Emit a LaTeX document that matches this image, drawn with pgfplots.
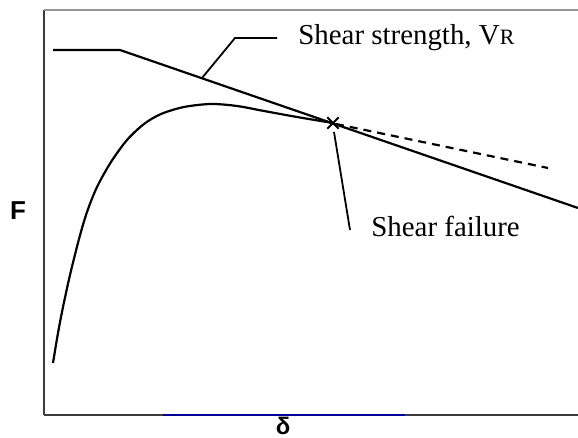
\documentclass[border=0pt]{standalone}
\usepackage{pgfplots}
\pgfplotsset{compat=1.18}
\usepackage{fontspec}
\setmainfont{Liberation Serif}
\newfontfamily\arialfont{Liberation Sans}
\definecolor{axgray}{RGB}{60,60,60}
\definecolor{topgray}{RGB}{150,150,150}
\definecolor{navy}{RGB}{0,0,150}
\begin{document}
\begin{tikzpicture}
\begin{axis}[
  scale only axis,
  width=267bp, height=202.5bp,
  xmin=44, xmax=578, ymin=23, ymax=428,
  axis x line=bottom, axis y line=left,
  axis line style={axgray, line width=1bp, -},
  xtick=\empty, ytick=\empty,
  clip=false,
]
\coordinate (bbll) at (axis cs:0,0);
\coordinate (bbur) at (axis cs:578,438);
% top frame line
\addplot[topgray, line width=1bp] coordinates {(44,428) (578,428)};
% blue segment on x axis
\addplot[navy, line width=1.2bp] coordinates {(163,23) (405,23)};
% shear strength line
\addplot[black, line width=1.1bp] coordinates {(53,388) (120,388) (578,230)};
% load-deformation curve
\addplot[black, line width=1.1bp, smooth, line join=round] coordinates {
(53,75) (58,105) (63,131) (70,163) (79,199) (87,226) (97,251) (111,276)
(127,298) (144,314) (161,324) (184,331) (211,334) (237,332) (264,327)
(297,321) (333,315)};
% dashed continuation
\addplot[black, line width=1.1bp, dash pattern=on 4bp off 3bp] coordinates {(336,314) (548,270)};
% shear failure mark
\addplot[black, only marks, mark=x, mark size=4bp, mark options={line width=0.9bp}] coordinates {(333,315)};
% leader lines
\addplot[black, line width=0.9bp] coordinates {(202,360) (235,400) (277,400)};
\addplot[black, line width=0.9bp] coordinates {(334,306) (350,208)};
\node[anchor=base west, inner sep=0pt, font=\fontsize{14.5}{16}\selectfont] at (axis cs:298,393) {Shear strength, V{\fontsize{11}{12}\selectfont R}};
\node[anchor=base west, inner sep=0pt, font=\fontsize{14.5}{16}\selectfont] at (axis cs:371,201) {Shear failure};
\node[inner sep=0pt, font=\arialfont\bfseries\fontsize{13}{14}\selectfont] at (axis cs:18,227) {F};
\node[anchor=base, inner sep=0pt, font=\arialfont\bfseries\fontsize{12}{14}\selectfont] at (axis cs:283,4) {δ};
\end{axis}
\pgfresetboundingbox
\path[use as bounding box] (bbll) rectangle (bbur);
\end{tikzpicture}
\end{document}
